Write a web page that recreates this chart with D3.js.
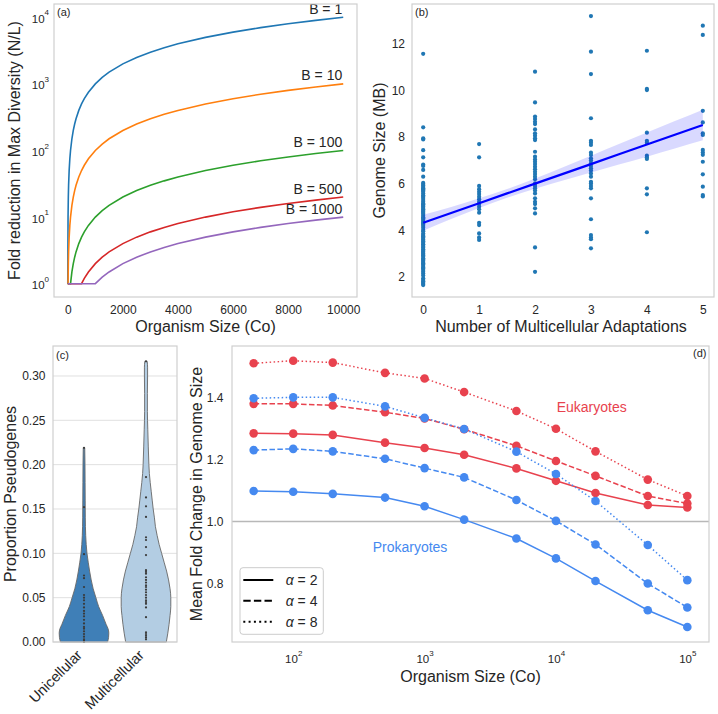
<!DOCTYPE html>
<html><head><meta charset="utf-8">
<script src="https://cdn.jsdelivr.net/npm/d3@7"></script>
<style>
body{margin:0;background:#fff}
svg{display:block}
text{font-family:"Liberation Sans",Arial,Helvetica,sans-serif;}
</style>
</head><body>
<svg id="fig" width="718" height="714"></svg>
<script>
// ================= DATA =================
// Panel (a): fold reduction vs organism size for several B
const orgSizeA = [0, 10, 20, 30, 50, 75, 100, 150, 200, 250, 300, 400, 500, 600, 750, 1000, 1250, 1500, 2000, 2500, 3000, 3500, 4000, 5000, 6000, 7000, 8000, 9000, 10000];
const foldB1    = [1, 10, 20, 30, 50, 75, 100, 150, 200, 250, 300, 400, 500, 600, 750, 1000, 1250, 1500, 2000, 2500, 3000, 3500, 4000, 5000, 6000, 7000, 8000, 9000, 10000];
const foldB10   = [1, 1, 2, 3, 5, 7.5, 10, 15, 20, 25, 30, 40, 50, 60, 75, 100, 125, 150, 200, 250, 300, 350, 400, 500, 600, 700, 800, 900, 1000];
const foldB100  = [1, 1, 1, 1, 1, 1, 1, 1.5, 2, 2.5, 3, 4, 5, 6, 7.5, 10, 12.5, 15, 20, 25, 30, 35, 40, 50, 60, 70, 80, 90, 100];
const foldB500  = [1, 1, 1, 1, 1, 1, 1, 1, 1, 1, 1, 1, 1, 1.2, 1.5, 2, 2.5, 3, 4, 5, 6, 7, 8, 10, 12, 14, 16, 18, 20];
const foldB1000 = [1, 1, 1, 1, 1, 1, 1, 1, 1, 1, 1, 1, 1, 1, 1, 1, 1.25, 1.5, 2, 2.5, 3, 3.5, 4, 5, 6, 7, 8, 9, 10];
const bLabels = ["B = 1", "B = 10", "B = 100", "B = 500", "B = 1000"];
const xTicksA = [0, 2000, 4000, 6000, 8000, 10000];
const yTicksA = [1, 10, 100, 1000, 10000];

// Panel (b): genome size (MB) by number of multicellular adaptations
const adapt0 = [11.58, 8.42, 7.95, 7.90, 7.44, 7.13, 6.82, 6.76, 6.59, 6.30, 6.03, 5.98, 5.92, 5.86, 5.80, 5.76, 5.70, 5.65, 5.58, 5.50, 5.44, 5.38, 5.30, 5.22, 5.15, 5.11, 5.05, 5.01, 4.95, 4.90, 4.84, 4.79, 4.74, 4.69, 4.62, 4.56, 4.51, 4.45, 4.39, 4.33, 4.29, 4.23, 4.18, 4.10, 4.01, 3.95, 3.86, 3.79, 3.74, 3.69, 3.62, 3.58, 3.52, 3.46, 3.40, 3.36, 3.29, 3.24, 3.18, 3.12, 3.07, 3.02, 2.98, 2.92, 2.86, 2.79, 2.74, 2.69, 2.63, 2.58, 2.52, 2.46, 2.40, 2.35, 2.29, 2.21, 2.14, 2.05, 1.93, 1.86, 1.80, 1.74, 1.69, 1.64];
const adapt1 = [7.70, 7.13, 5.90, 5.76, 5.65, 5.55, 5.44, 5.33, 5.22, 5.12, 5.01, 4.90, 4.75, 4.32, 4.22, 3.86, 3.69, 3.58];
const adapt2 = [10.81, 9.49, 8.88, 8.78, 8.66, 8.56, 8.33, 8.16, 8.06, 7.95, 7.87, 7.37, 7.16, 7.04, 6.94, 6.84, 6.73, 6.62, 6.51, 6.41, 6.30, 6.19, 6.01, 5.90, 5.80, 5.70, 5.58, 5.37, 5.22, 5.12, 4.94, 4.72, 3.26, 2.21];
const adapt3 = [13.20, 11.67, 10.71, 8.81, 7.84, 7.76, 7.66, 7.33, 7.23, 7.09, 6.99, 6.87, 6.76, 6.66, 6.56, 6.44, 6.30, 6.08, 6.01, 5.90, 5.80, 5.37, 4.47, 3.79, 3.69, 3.61, 3.22];
const adapt4 = [11.71, 10.07, 10.02, 8.19, 7.84, 7.76, 7.20, 7.13, 7.06, 5.80, 5.54, 3.91];
const adapt5 = [12.79, 12.39, 9.13, 8.63, 8.16, 8.09, 7.45, 7.34, 7.24, 6.94, 6.40, 5.87, 5.51, 5.45];
const regX    = [0, 0.5, 1, 1.5, 2, 2.5, 3, 3.5, 4, 4.5, 5];
const regFit  = [4.32, 4.74, 5.16, 5.58, 6.00, 6.42, 6.84, 7.26, 7.68, 8.10, 8.52];
const regLow  = [3.98, 4.48, 4.95, 5.39, 5.78, 6.14, 6.48, 6.82, 7.16, 7.51, 7.86];
const regHigh = [4.66, 5.00, 5.37, 5.77, 6.22, 6.70, 7.20, 7.70, 8.20, 8.69, 9.18];
const xTicksB = [0, 1, 2, 3, 4, 5];
const yTicksB = [2, 4, 6, 8, 10, 12];

// Panel (c): proportion pseudogenes (violin profiles + observations)
const cellTypes = ["Unicellular", "Multicellular"];
const uniProfileY  = [0, 0.005, 0.01, 0.015, 0.02, 0.03, 0.04, 0.05, 0.06, 0.07, 0.08, 0.09, 0.10, 0.11, 0.12, 0.14, 0.16, 0.18, 0.20, 0.219];
const uniDensity   = [0.95, 0.99, 1.0, 0.97, 0.89, 0.75, 0.59, 0.48, 0.37, 0.29, 0.226, 0.17, 0.12, 0.089, 0.069, 0.052, 0.048, 0.044, 0.04, 0.03];
const multiProfileY = [0, 0.01, 0.02, 0.03, 0.04, 0.05, 0.06, 0.07, 0.08, 0.09, 0.10, 0.11, 0.12, 0.13, 0.14, 0.15, 0.16, 0.17, 0.18, 0.19, 0.20, 0.22, 0.24, 0.26, 0.28, 0.30, 0.31, 0.3165];
const multiDensity  = [0.82, 0.88, 0.93, 0.97, 1.0, 1.0, 0.97, 0.91, 0.83, 0.73, 0.63, 0.53, 0.45, 0.38, 0.34, 0.29, 0.25, 0.21, 0.17, 0.136, 0.116, 0.092, 0.072, 0.056, 0.056, 0.064, 0.064, 0.048];
const uniPoints   = [0.219, 0.152, 0.099, 0.075, 0.072, 0.062, 0.053, 0.050, 0.047, 0.043, 0.039, 0.035, 0.032, 0.029, 0.025, 0.021, 0.017, 0.015, 0.012, 0.009, 0.006, 0.003, 0.0015, 0.0];
const multiPoints = [0.3165, 0.186, 0.163, 0.153, 0.141, 0.118, 0.115, 0.107, 0.098, 0.081, 0.079, 0.077, 0.073, 0.070, 0.067, 0.064, 0.062, 0.059, 0.056, 0.053, 0.050, 0.047, 0.045, 0.043, 0.039, 0.028, 0.011, 0.009, 0.007, 0.005, 0.003];
const yTicksC = [0, 0.05, 0.10, 0.15, 0.20, 0.25, 0.30];

// Panel (d): mean fold change in genome size
const orgSizeD = [50, 100, 200, 500, 1000, 2000, 5000, 10000, 20000, 50000, 100000];
const eukA2 = [1.284, 1.283, 1.279, 1.254, 1.237, 1.215, 1.171, 1.131, 1.092, 1.053, 1.045];
const eukA4 = [1.379, 1.379, 1.374, 1.352, 1.332, 1.297, 1.244, 1.195, 1.147, 1.082, 1.058];
const eukA8 = [1.510, 1.518, 1.512, 1.479, 1.461, 1.417, 1.356, 1.299, 1.226, 1.135, 1.082];
const proA2 = [1.098, 1.096, 1.089, 1.077, 1.049, 1.006, 0.945, 0.881, 0.808, 0.714, 0.660];
const proA4 = [1.230, 1.234, 1.226, 1.202, 1.172, 1.142, 1.069, 1.002, 0.926, 0.800, 0.723];
const proA8 = [1.397, 1.400, 1.400, 1.371, 1.334, 1.298, 1.225, 1.153, 1.066, 0.924, 0.811];
const alphaLabels = ["2", "4", "8"];
const xTicksD = [100, 1000, 10000, 100000];
const yTicksD = [0.8, 1.0, 1.2, 1.4];

// ================= DRAWING =================
const svg = d3.select("#fig");
const FONT = '"Liberation Sans", Arial, Helvetica, sans-serif';
const MATHFONT = '"DejaVu Sans", sans-serif';
const TXT = "#262626";
const SPINE = "#cfcfcf";
const TICKFS = 12;

function frame(L, T, R, B) {
  svg.append("rect").attr("x", L).attr("y", T).attr("width", R - L).attr("height", B - T)
    .attr("fill", "none").attr("stroke", SPINE).attr("stroke-width", 1.2);
}
function styleAxis(g) {
  g.select(".domain").remove();
  g.attr("font-family", FONT).attr("font-size", TICKFS);
  g.selectAll("text").attr("fill", TXT);
}
function supLabels(g, y, base) {
  g.selectAll(".tick text").each(function(d) {
    const t = d3.select(this);
    t.text(null).attr("dy", null).attr("y", y).attr("font-family", MATHFONT).attr("font-size", 11.5);
    t.append("tspan").text("10");
    t.append("tspan").attr("dy", -7.5).attr("font-size", 8).text(Math.round(Math.log10(d)));
  });
}
function yTitle(x, y, txt) {
  svg.append("text").attr("transform", `translate(${x},${y}) rotate(-90)`)
    .attr("text-anchor", "middle").attr("font-size", 16).attr("fill", TXT).text(txt);
}
function xTitle(x, y, txt) {
  svg.append("text").attr("x", x).attr("y", y).attr("text-anchor", "middle")
    .attr("font-size", 16).attr("fill", TXT).text(txt);
}
function panelLabel(x, y, txt, anchor) {
  svg.append("text").attr("x", x).attr("y", y).attr("text-anchor", anchor || "start")
    .attr("font-size", 11).attr("fill", TXT).text(txt);
}

// ---------- Panel (a) ----------
{
  const L = 54, R = 357, T = 4, B = 297;
  const x = d3.scaleLinear().domain([-500, 10500]).range([L, R]);
  const y = d3.scaleLog().domain([Math.pow(10, -0.2), Math.pow(10, 4.2)]).range([B, T]);
  const series = [foldB1, foldB10, foldB100, foldB500, foldB1000];
  const colors = ["#1f77b4", "#ff7f0e", "#2ca02c", "#d62728", "#9467bd"];
  const line = d3.line().x(d => x(d[0])).y(d => y(d[1]));
  series.forEach((vals, i) => {
    svg.append("path").datum(orgSizeA.map((c, j) => [c, vals[j]]))
      .attr("d", line).attr("fill", "none").attr("stroke", colors[i]).attr("stroke-width", 1.6);
  });
  series.forEach((vals, i) => {
    svg.append("text").attr("x", x(orgSizeA[orgSizeA.length - 1]) - 1)
      .attr("y", y(vals[vals.length - 1]) - 3.5).attr("text-anchor", "end")
      .attr("font-size", 14).attr("fill", TXT).text(bLabels[i]);
  });
  const ax = svg.append("g").attr("transform", `translate(0,${B})`)
    .call(d3.axisBottom(x).tickValues(xTicksA).tickSize(0).tickPadding(8).tickFormat(d3.format("d")));
  styleAxis(ax);
  const ay = svg.append("g").attr("transform", `translate(${L},0)`)
    .call(d3.axisLeft(y).tickValues(yTicksA).tickSize(0).tickPadding(5));
  styleAxis(ay);
  supLabels(ay, 5);
  frame(L, T, R, B);
  panelLabel(57, 16, "(a)");
  xTitle((L + R) / 2, 331.5, "Organism Size (Co)");
  yTitle(19.5, (T + B) / 2, "Fold reduction in Max Diversity (N/L)");
}

// ---------- Panel (b) ----------
{
  const L = 412, R = 714, T = 4, B = 297;
  const x = d3.scaleLinear().domain([-0.2, 5.2]).range([L, R]);
  const y = d3.scaleLinear().domain([1.128, 13.72]).range([B, T]);
  const cols = [adapt0, adapt1, adapt2, adapt3, adapt4, adapt5];
  const pts = [];
  cols.forEach((arr, k) => arr.forEach(v => pts.push([k, v])));
  svg.append("g").selectAll("circle").data(pts).join("circle")
    .attr("cx", d => x(d[0])).attr("cy", d => y(d[1])).attr("r", 2.1).attr("fill", "#2077b4");
  const band = regX.map((v, i) => [v, regLow[i], regHigh[i]]);
  svg.append("path").datum(band)
    .attr("d", d3.area().x(d => x(d[0])).y0(d => y(d[1])).y1(d => y(d[2])).curve(d3.curveMonotoneX))
    .attr("fill", "#0000ff").attr("fill-opacity", 0.15);
  svg.append("path").datum(regX.map((v, i) => [v, regFit[i]]))
    .attr("d", d3.line().x(d => x(d[0])).y(d => y(d[1])))
    .attr("fill", "none").attr("stroke", "#0000ff").attr("stroke-width", 2.2);
  const ax = svg.append("g").attr("transform", `translate(0,${B})`)
    .call(d3.axisBottom(x).tickValues(xTicksB).tickSize(0).tickPadding(8).tickFormat(d3.format("d")));
  styleAxis(ax);
  const ay = svg.append("g").attr("transform", `translate(${L},0)`)
    .call(d3.axisLeft(y).tickValues(yTicksB).tickSize(0).tickPadding(7).tickFormat(d3.format("d")));
  styleAxis(ay);
  frame(L, T, R, B);
  panelLabel(415, 16, "(b)");
  xTitle(561, 331.5, "Number of Multicellular Adaptations");
  yTitle(385, (T + B) / 2, "Genome Size (MB)");
}

// ---------- Panel (c) ----------
{
  const L = 53, R = 177, T = 346, B = 642;
  const x = d3.scaleLinear().domain([-0.5, 1.5]).range([L, R]);
  const y = d3.scaleLinear().domain([0, 0.3338]).range([B, T]);
  svg.append("g").selectAll("line").data(yTicksC).join("line")
    .attr("x1", L).attr("x2", R).attr("y1", d => y(d)).attr("y2", d => y(d))
    .attr("stroke", "#e0e0e0").attr("stroke-width", 1);
  const violins = [
    {ys: uniProfileY, ds: uniDensity, pts: uniPoints, fill: "#3f7fb7"},
    {ys: multiProfileY, ds: multiDensity, pts: multiPoints, fill: "#b3cde3"}
  ];
  violins.forEach((v, k) => {
    const prof = v.ys.map((yy, i) => [yy, v.ds[i]]);
    svg.append("path").datum(prof)
      .attr("d", d3.area().curve(d3.curveMonotoneY)
        .y(d => y(d[0])).x0(d => x(k - d[1] * 0.4)).x1(d => x(k + d[1] * 0.4)))
      .attr("fill", v.fill).attr("stroke", "#666").attr("stroke-width", 0.9);
    svg.append("g").selectAll("circle").data(v.pts).join("circle")
      .attr("cx", x(k)).attr("cy", d => y(d)).attr("r", 1.1).attr("fill", "#3a3a3a");
  });
  const ay = svg.append("g").attr("transform", `translate(${L},0)`)
    .call(d3.axisLeft(y).tickValues(yTicksC).tickSize(0).tickPadding(7.5).tickFormat(d3.format(".2f")));
  styleAxis(ay);
  cellTypes.forEach((c, k) => {
    svg.append("text").attr("transform", `translate(${x(k) - 1},656) rotate(-45)`)
      .attr("text-anchor", "end").attr("font-size", 14.5).attr("fill", TXT).text(c);
  });
  frame(L, T, R, B);
  panelLabel(56, 359, "(c)");
  yTitle(15.5, (T + B) / 2, "Proportion Pseudogenes");
}

// ---------- Panel (d) ----------
{
  const L = 232, R = 709, T = 346, B = 642;
  const x = d3.scaleLog().domain([Math.pow(10, 1.534), Math.pow(10, 5.165)]).range([L, R]);
  const y = d3.scaleLinear().domain([0.6116, 1.5655]).range([B, T]);
  svg.append("line").attr("x1", L).attr("x2", R).attr("y1", y(1)).attr("y2", y(1))
    .attr("stroke", "#b8b8b8").attr("stroke-width", 1.3);
  const RED = "#e8424e", BLUE = "#4589f0";
  const dashes = [null, "5.5,2.4", "1.5,2.5"];
  const groups = [
    {sets: [eukA2, eukA4, eukA8], color: RED},
    {sets: [proA2, proA4, proA8], color: BLUE}
  ];
  const line = d3.line().x(d => x(d[0])).y(d => y(d[1]));
  groups.forEach(g => {
    g.sets.forEach((vals, i) => {
      const data = orgSizeD.map((s, j) => [s, vals[j]]);
      const p = svg.append("path").datum(data).attr("d", line).attr("fill", "none")
        .attr("stroke", g.color).attr("stroke-width", 1.5);
      if (dashes[i]) p.attr("stroke-dasharray", dashes[i]);
      svg.append("g").selectAll("circle").data(data).join("circle")
        .attr("cx", d => x(d[0])).attr("cy", d => y(d[1])).attr("r", 4.3).attr("fill", g.color);
    });
  });
  svg.append("text").attr("x", 591.7).attr("y", 412.3).attr("text-anchor", "middle")
    .attr("font-size", 14).attr("fill", RED).text("Eukaryotes");
  svg.append("text").attr("x", 410).attr("y", 551.7).attr("text-anchor", "middle")
    .attr("font-size", 14).attr("fill", BLUE).text("Prokaryotes");
  // legend
  const lg = svg.append("g");
  lg.append("rect").attr("x", 240).attr("y", 567.7).attr("width", 83.3).attr("height", 66.6)
    .attr("rx", 3).attr("fill", "#fff").attr("fill-opacity", 0.85).attr("stroke", "#cccccc").attr("stroke-width", 1);
  const legDash = [null, "7.4,3.2", "2,3.3"];
  alphaLabels.forEach((a, i) => {
    const yy = 580 + i * 20.85;
    const l = lg.append("line").attr("x1", 243.3).attr("x2", 273.3).attr("y1", yy).attr("y2", yy)
      .attr("stroke", "#000").attr("stroke-width", 2);
    if (legDash[i]) l.attr("stroke-dasharray", legDash[i]);
    const t = lg.append("text").attr("x", 285.7).attr("y", yy + 5).attr("font-size", 14).attr("fill", TXT);
    t.append("tspan").attr("font-style", "italic").text("α");
    t.append("tspan").text(" = " + a);
  });
  const ax = svg.append("g").attr("transform", `translate(0,${B})`)
    .call(d3.axisBottom(x).tickValues(xTicksD).tickSize(0).tickPadding(8));
  styleAxis(ax);
  supLabels(ax, 21);
  const ay = svg.append("g").attr("transform", `translate(${L},0)`)
    .call(d3.axisLeft(y).tickValues(yTicksD).tickSize(0).tickPadding(8.5).tickFormat(d3.format(".1f")));
  styleAxis(ay);
  frame(L, T, R, B);
  panelLabel(706.5, 357, "(d)", "end");
  xTitle((L + R) / 2, 681.5, "Organism Size (Co)");
  yTitle(202, (T + B) / 2, "Mean Fold Change in Genome Size");
}
</script>
</body></html>
